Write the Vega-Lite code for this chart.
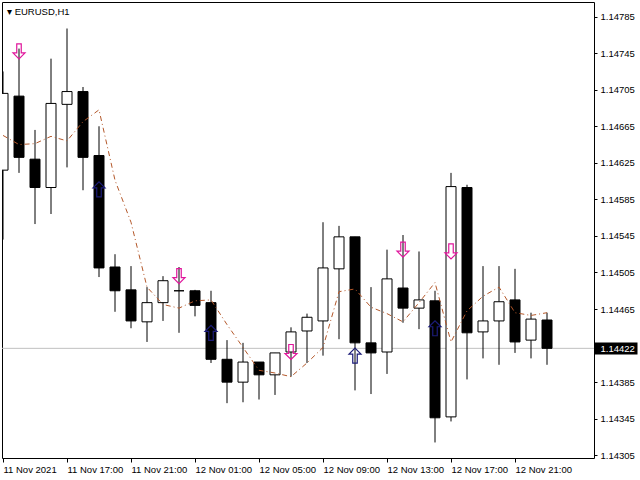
{
  "$schema": "https://vega.github.io/schema/vega-lite/v6.json",
  "width": 592,
  "height": 456,
  "autosize": "none",
  "padding": {"left": 2, "top": 2, "right": 46, "bottom": 22},
  "background": "white",
  "title": {
    "text": "▾  EURUSD,H1",
    "anchor": "start",
    "frame": "group",
    "orient": "top",
    "offset": 0,
    "baseline": "alphabetic",
    "dx": 5,
    "dy": 22.5,
    "font": "Liberation Sans",
    "fontSize": 9.5,
    "fontWeight": "normal",
    "color": "black"
  },
  "config": {
    "view": {"stroke": "black", "strokeWidth": 1},
    "axis": {
      "labelFont": "Liberation Sans",
      "labelFontSize": 9.5,
      "labelColor": "black",
      "tickColor": "black",
      "domain": false,
      "grid": false
    }
  },
  "datasets": {
    "bars": [
      {"t": "2021-11-11T13:00:00Z", "open": 1.14617, "high": 1.14725, "low": 1.14541, "close": 1.14701, "ma": 1.14655},
      {"t": "2021-11-11T14:00:00Z", "open": 1.14698, "high": 1.14750, "low": 1.14614, "close": 1.14631, "ma": 1.14645},
      {"t": "2021-11-11T15:00:00Z", "open": 1.14629, "high": 1.14661, "low": 1.14558, "close": 1.14598, "ma": 1.14646},
      {"t": "2021-11-11T16:00:00Z", "open": 1.14598, "high": 1.14739, "low": 1.14569, "close": 1.14690, "ma": 1.14654},
      {"t": "2021-11-11T17:00:00Z", "open": 1.14689, "high": 1.14772, "low": 1.14620, "close": 1.14703, "ma": 1.14649},
      {"t": "2021-11-11T18:00:00Z", "open": 1.14703, "high": 1.14708, "low": 1.14595, "close": 1.14631, "ma": 1.14670},
      {"t": "2021-11-11T19:00:00Z", "open": 1.14633, "high": 1.14665, "low": 1.14500, "close": 1.14510, "ma": 1.14683},
      {"t": "2021-11-11T20:00:00Z", "open": 1.14511, "high": 1.14525, "low": 1.14462, "close": 1.14485, "ma": 1.14606},
      {"t": "2021-11-11T21:00:00Z", "open": 1.14486, "high": 1.14512, "low": 1.14444, "close": 1.14452, "ma": 1.14560},
      {"t": "2021-11-11T22:00:00Z", "open": 1.14451, "high": 1.14489, "low": 1.14429, "close": 1.14472, "ma": 1.14489},
      {"t": "2021-11-11T23:00:00Z", "open": 1.14472, "high": 1.14501, "low": 1.14452, "close": 1.14496, "ma": 1.14470},
      {"t": "2021-11-12T00:00:00Z", "open": 1.14485, "high": 1.14511, "low": 1.14439, "close": 1.14485, "ma": 1.14466},
      {"t": "2021-11-12T01:00:00Z", "open": 1.14485, "high": 1.14486, "low": 1.14457, "close": 1.14469, "ma": 1.14474},
      {"t": "2021-11-12T02:00:00Z", "open": 1.14472, "high": 1.14485, "low": 1.14406, "close": 1.14410, "ma": 1.14475},
      {"t": "2021-11-12T03:00:00Z", "open": 1.14410, "high": 1.14431, "low": 1.14362, "close": 1.14385, "ma": 1.14448},
      {"t": "2021-11-12T04:00:00Z", "open": 1.14385, "high": 1.14428, "low": 1.14363, "close": 1.14407, "ma": 1.14423},
      {"t": "2021-11-12T05:00:00Z", "open": 1.14407, "high": 1.14407, "low": 1.14366, "close": 1.14393, "ma": 1.14398},
      {"t": "2021-11-12T06:00:00Z", "open": 1.14393, "high": 1.14417, "low": 1.14371, "close": 1.14417, "ma": 1.14395},
      {"t": "2021-11-12T07:00:00Z", "open": 1.14418, "high": 1.14445, "low": 1.14391, "close": 1.14440, "ma": 1.14391},
      {"t": "2021-11-12T08:00:00Z", "open": 1.14441, "high": 1.14460, "low": 1.14406, "close": 1.14456, "ma": 1.14406},
      {"t": "2021-11-12T09:00:00Z", "open": 1.14452, "high": 1.14560, "low": 1.14414, "close": 1.14510, "ma": 1.14423},
      {"t": "2021-11-12T10:00:00Z", "open": 1.14509, "high": 1.14556, "low": 1.14432, "close": 1.14544, "ma": 1.14484},
      {"t": "2021-11-12T11:00:00Z", "open": 1.14544, "high": 1.14544, "low": 1.14376, "close": 1.14428, "ma": 1.14487},
      {"t": "2021-11-12T12:00:00Z", "open": 1.14428, "high": 1.14489, "low": 1.14372, "close": 1.14417, "ma": 1.14467},
      {"t": "2021-11-12T13:00:00Z", "open": 1.14418, "high": 1.14530, "low": 1.14394, "close": 1.14498, "ma": 1.14460},
      {"t": "2021-11-12T14:00:00Z", "open": 1.14488, "high": 1.14546, "low": 1.14450, "close": 1.14466, "ma": 1.14451},
      {"t": "2021-11-12T15:00:00Z", "open": 1.14466, "high": 1.14528, "low": 1.14443, "close": 1.14475, "ma": 1.14472},
      {"t": "2021-11-12T16:00:00Z", "open": 1.14474, "high": 1.14485, "low": 1.14319, "close": 1.14346, "ma": 1.14494},
      {"t": "2021-11-12T17:00:00Z", "open": 1.14347, "high": 1.14614, "low": 1.14342, "close": 1.14599, "ma": 1.14429},
      {"t": "2021-11-12T18:00:00Z", "open": 1.14598, "high": 1.14601, "low": 1.14388, "close": 1.14439, "ma": 1.14463},
      {"t": "2021-11-12T19:00:00Z", "open": 1.14440, "high": 1.14512, "low": 1.14411, "close": 1.14452, "ma": 1.14479},
      {"t": "2021-11-12T20:00:00Z", "open": 1.14452, "high": 1.14512, "low": 1.14404, "close": 1.14473, "ma": 1.14489},
      {"t": "2021-11-12T21:00:00Z", "open": 1.14475, "high": 1.14509, "low": 1.14417, "close": 1.14429, "ma": 1.14461},
      {"t": "2021-11-12T22:00:00Z", "open": 1.14431, "high": 1.14461, "low": 1.14411, "close": 1.14454, "ma": 1.14458},
      {"t": "2021-11-12T23:00:00Z", "open": 1.14453, "high": 1.14461, "low": 1.14404, "close": 1.14422, "ma": 1.14461}
    ],
    "downArrows": [
      {"t": "2021-11-11T14:00:00Z", "price": 1.14747},
      {"t": "2021-11-12T00:00:00Z", "price": 1.14501},
      {"t": "2021-11-12T07:00:00Z", "price": 1.14418},
      {"t": "2021-11-12T14:00:00Z", "price": 1.14530},
      {"t": "2021-11-12T17:00:00Z", "price": 1.14528}
    ],
    "upArrows": [
      {"t": "2021-11-11T19:00:00Z", "price": 1.14596},
      {"t": "2021-11-12T02:00:00Z", "price": 1.14439},
      {"t": "2021-11-12T11:00:00Z", "price": 1.14414},
      {"t": "2021-11-12T16:00:00Z", "price": 1.14444}
    ],
    "lastPrice": [{"price": 1.14422}]
  },
  "resolve": {"axis": {"y": "independent"}},
  "layer": [
    {
      "data": {"name": "lastPrice"},
      "mark": {"type": "rule", "color": "#c0c0c0", "strokeWidth": 1},
      "encoding": {
        "y": {
          "field": "price",
          "type": "quantitative",
          "scale": {"domain": [1.14302, 1.14801], "zero": false, "nice": false, "padding": 0},
          "axis": {
            "orient": "right",
            "values": [1.14422],
            "format": ".5f",
            "tickSize": 43,
            "tickWidth": 12,
            "tickColor": "black",
            "labelColor": "white",
            "labelPadding": -37,
            "labelAlign": "left",
            "labelBaseline": "middle",
            "title": null
          }
        }
      }
    },
    {
      "data": {"name": "bars"},
      "mark": {"type": "rule", "color": "black", "strokeWidth": 1, "clip": true},
      "encoding": {
        "x": {
          "field": "t",
          "type": "temporal",
          "scale": {
            "type": "utc",
            "nice": false,
            "padding": 0,
            "domain": [
              {"year": 2021, "month": 11, "date": 11, "hours": 12, "minutes": 56, "seconds": 15, "utc": true},
              {"year": 2021, "month": 11, "date": 13, "hours": 1, "minutes": 56, "seconds": 15, "utc": true}
            ]
          },
          "axis": {
            "values": [
              {"year": 2021, "month": 11, "date": 11, "hours": 13, "utc": true},
              {"year": 2021, "month": 11, "date": 11, "hours": 17, "utc": true},
              {"year": 2021, "month": 11, "date": 11, "hours": 21, "utc": true},
              {"year": 2021, "month": 11, "date": 12, "hours": 1, "utc": true},
              {"year": 2021, "month": 11, "date": 12, "hours": 5, "utc": true},
              {"year": 2021, "month": 11, "date": 12, "hours": 9, "utc": true},
              {"year": 2021, "month": 11, "date": 12, "hours": 13, "utc": true},
              {"year": 2021, "month": 11, "date": 12, "hours": 17, "utc": true},
              {"year": 2021, "month": 11, "date": 12, "hours": 21, "utc": true}
            ],
            "labelExpr": "utcdate(datum.value) == 11 && utchours(datum.value) == 13 ? '11 Nov 2021' : utcFormat(datum.value, '%d %b %H:%M')",
            "tickSize": 4,
            "labelPadding": 2,
            "labelAlign": "left",
            "labelBaseline": "top",
            "labelFlush": false,
            "labelOverlap": false,
            "title": null
          }
        },
        "y": {
          "field": "low",
          "type": "quantitative",
          "axis": {
            "orient": "right",
            "values": [1.14305, 1.14345, 1.14385, 1.14465, 1.14505, 1.14545, 1.14585, 1.14625, 1.14665, 1.14705, 1.14745, 1.14785],
            "format": ".5f",
            "tickSize": 3,
            "labelPadding": 3,
            "labelAlign": "left",
            "labelBaseline": "middle",
            "labelOverlap": false,
            "title": null
          }
        },
        "y2": {"field": "high"}
      }
    },
    {
      "data": {"name": "bars"},
      "mark": {"type": "bar", "size": 10, "stroke": "black", "strokeWidth": 1, "clip": true},
      "encoding": {
        "x": {"field": "t", "type": "temporal"},
        "y": {"field": "open", "type": "quantitative", "axis": null},
        "y2": {"field": "close"},
        "fill": {
          "condition": {"test": "datum.open > datum.close", "value": "black"},
          "value": "white"
        }
      }
    },
    {
      "data": {"name": "bars"},
      "mark": {"type": "line", "color": "#b4582a", "strokeWidth": 1, "strokeDash": [5, 3, 1, 3], "clip": true},
      "encoding": {
        "x": {"field": "t", "type": "temporal"},
        "y": {"field": "ma", "type": "quantitative", "axis": null}
      }
    },
    {
      "data": {"name": "downArrows"},
      "mark": {
        "type": "point",
        "shape": "M-0.3,-1H0.3V0.2H0.8L0,1L-0.8,0.2H-0.3Z",
        "size": 225,
        "filled": false,
        "stroke": "#e0169c",
        "strokeWidth": 1.2,
        "opacity": 1
      },
      "encoding": {
        "x": {"field": "t", "type": "temporal"},
        "y": {"field": "price", "type": "quantitative", "axis": null}
      }
    },
    {
      "data": {"name": "upArrows"},
      "mark": {
        "type": "point",
        "shape": "M-0.3,1H0.3V-0.2H0.8L0,-1L-0.8,-0.2H-0.3Z",
        "size": 225,
        "filled": false,
        "stroke": "#1c1c78",
        "strokeWidth": 1.2,
        "opacity": 1
      },
      "encoding": {
        "x": {"field": "t", "type": "temporal"},
        "y": {"field": "price", "type": "quantitative", "axis": null}
      }
    }
  ]
}
